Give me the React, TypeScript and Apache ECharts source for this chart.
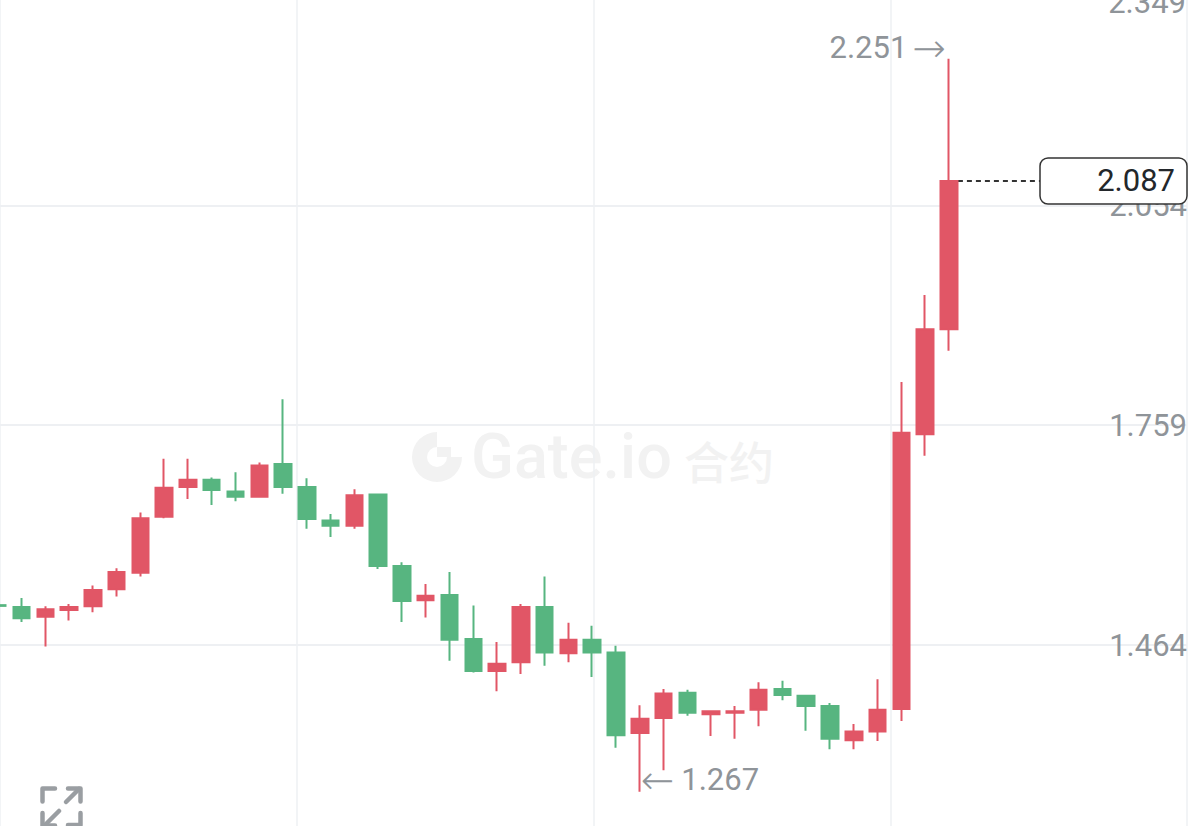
import React, { useEffect, useRef } from "react";
import * as echarts from "echarts";

const opens = [1.5175, 1.515, 1.502, 1.511, 1.516, 1.539, 1.561, 1.636, 1.676, 1.686, 1.67, 1.663, 1.707, 1.676, 1.631, 1.624, 1.666, 1.57, 1.524, 1.531, 1.472, 1.429, 1.441, 1.515, 1.453, 1.471, 1.454, 1.346, 1.366, 1.4, 1.371, 1.373, 1.377, 1.405, 1.396, 1.382, 1.336, 1.348, 1.378, 1.747, 1.888];
const closes = [1.5165, 1.5, 1.512, 1.515, 1.538, 1.562, 1.634, 1.675, 1.686, 1.672, 1.663, 1.705, 1.676, 1.633, 1.624, 1.665, 1.57, 1.523, 1.53, 1.471, 1.429, 1.439, 1.515, 1.454, 1.471, 1.454, 1.343, 1.365, 1.399, 1.373, 1.375, 1.375, 1.404, 1.397, 1.382, 1.338, 1.348, 1.377, 1.749, 1.888, 2.087];
const lows = [1.5165, 1.495, 1.462, 1.497, 1.508, 1.529, 1.556, 1.634, 1.66, 1.652, 1.657, 1.663, 1.667, 1.62, 1.609, 1.62, 1.566, 1.495, 1.501, 1.443, 1.427, 1.402, 1.425, 1.436, 1.441, 1.421, 1.326, 1.267, 1.296, 1.369, 1.342, 1.338, 1.355, 1.39, 1.349, 1.324, 1.324, 1.335, 1.362, 1.718, 1.859];
const highs = [1.5175, 1.527, 1.516, 1.519, 1.544, 1.567, 1.642, 1.714, 1.714, 1.689, 1.696, 1.709, 1.794, 1.688, 1.64, 1.673, 1.666, 1.575, 1.546, 1.562, 1.517, 1.468, 1.519, 1.556, 1.494, 1.49, 1.463, 1.383, 1.405, 1.404, 1.376, 1.382, 1.414, 1.416, 1.396, 1.386, 1.358, 1.418, 1.817, 1.934, 2.251];
const tickLabels = [1.464, 1.759, 2.054];
const clampedTick = 2.349;
const lastPrice = 2.087;
const highestPrice = 2.251;
const lowestPrice = 1.267;
const Y_MIN = 1.22103;
const Y_MAX = 2.32985;
const VISIBLE_BANDS = 51;
const BLEED = 15; // the chart starts left of the page, because the first candle is cut by the edge

const RED = "#E15666";
const GREEN = "#57B580";
const GREY = "#8F9499";
const GRID = "#EEF0F3";
const WM = "#F2F2F2";
const FONT = "Roboto";

const categories = Array.from({ length: VISIBLE_BANDS }, (_, i) => String(i));
const candles = opens.map((o, i) => [o, closes[i], lows[i], highs[i]]);
const lastIndex = opens.length - 1;
const lowIndex = lows.indexOf(lowestPrice);
const highIndex = highs.indexOf(highestPrice);

const corner = (points: number[][]) => ({
  type: "polyline",
  shape: { points },
  style: { stroke: "#9A9EA2", lineWidth: 4.5, fill: "none", lineCap: "round", lineJoin: "round" },
  z: 20,
});

const annotationRich = {
  a: { fontFamily: "DejaVu Sans", fontSize: 40, color: GREY, fontWeight: 200 },
  t: { fontFamily: FONT, fontSize: 31, color: GREY },
  g: { width: 5, fontSize: 31 },
  h: { width: 7, fontSize: 31 },
};

export default function App() {
  const ref = useRef<HTMLDivElement>(null);
  useEffect(() => {
    document.body.style.margin = "0";
    document.body.style.overflow = "hidden";
    const chart = echarts.init(ref.current!, undefined, { renderer: "svg" });
    chart.setOption({
      animation: false,
      backgroundColor: "#fff",
      textStyle: { fontFamily: FONT },
      grid: [
        { left: 0.8, top: 0, width: 1212.8, height: 826, containLabel: false },
        { left: BLEED, top: 0, width: 1187, height: 826, containLabel: false },
      ],
      xAxis: [
        { type: "category", gridIndex: 0, data: categories, show: false, boundaryGap: true },
        {
          type: "value", gridIndex: 1, min: 0, max: 4, interval: 1,
          axisLine: { show: false }, axisTick: { show: false }, axisLabel: { show: false },
          splitLine: { show: true, lineStyle: { color: GRID, width: 1.5 } },
        },
      ],
      yAxis: [
        { type: "value", gridIndex: 0, min: Y_MIN, max: Y_MAX, show: false, splitLine: { show: false } },
        {
          type: "value", gridIndex: 1, min: Y_MIN, max: Y_MAX, position: "right",
          axisLine: { show: false },
          axisTick: { show: false, customValues: tickLabels },
          axisLabel: {
            inside: true, margin: 0, color: GREY, fontSize: 31, fontFamily: FONT, padding: [0, 0, 6, 0],
            customValues: tickLabels, formatter: (v: number) => v.toFixed(3),
          },
          splitLine: { show: true, lineStyle: { color: GRID, width: 2 } },
        },
      ],
      series: [
        {
          type: "candlestick",
          xAxisIndex: 0,
          yAxisIndex: 0,
          barWidth: 17,
          data: candles,
          itemStyle: { color: RED, color0: GREEN, borderColor: RED, borderColor0: GREEN, borderWidth: 2 },
          markPoint: {
            symbol: "circle",
            symbolSize: 0,
            silent: true,
            data: [
              {
                coord: [highIndex, highestPrice],
                label: { show: true, formatter: `{t|${highestPrice.toFixed(3)}}{g|}{a|→}`, rich: annotationRich, position: "left", offset: [2, -11] },
              },
              {
                coord: [lowIndex, lowestPrice],
                label: { show: true, formatter: `{a|←}{h|}{t|${lowestPrice.toFixed(3)}}`, rich: annotationRich, position: "right", offset: [-4, -12] },
              },
            ],
          },
          markLine: {
            silent: true,
            z: 1,
            symbol: "none",
            label: { show: false },
            lineStyle: { color: "#333", type: [5, 4], width: 2 },
            data: [[{ coord: [lastIndex, lastPrice] }, { coord: [44, lastPrice] }]],
          },
        },
      ],
      graphic: [
        {
          type: "group",
          x: BLEED,
          y: 0,
          children: [
            // watermark
            { type: "sector", shape: { cx: 437, cy: 457, r: 25, r0: 10, startAngle: 0, endAngle: Math.PI * 1.5, clockwise: true }, style: { fill: WM }, z: 0 },
            { type: "rect", shape: { x: 437, y: 447, width: 14, height: 10 }, style: { fill: WM }, z: 0 },
            { type: "text", x: 471, y: 456, style: { text: "Gate.io", font: `500 63px ${FONT}`, fill: WM, textVerticalAlign: "middle" }, z: 0 },
            { type: "text", x: 684, y: 460, style: { text: "合约", font: `500 45px "Noto Sans CJK SC"`, fill: WM, textVerticalAlign: "middle" }, z: 0 },
            // clamped top tick label
            { type: "text", x: 1186, y: 2, style: { text: clampedTick.toFixed(3), font: `31px ${FONT}`, fill: GREY, textAlign: "right", textVerticalAlign: "middle" }, z: 5 },
            // price tag
            { type: "rect", shape: { x: 1040, y: 158, width: 147, height: 46, r: 8 }, style: { fill: "#fff", stroke: "#333", lineWidth: 1.5 }, z: 100 },
            { type: "text", x: 1175, y: 180, style: { text: lastPrice.toFixed(3), font: `31px ${FONT}`, fill: "#23272B", textAlign: "right", textVerticalAlign: "middle" }, z: 101 },
            // fullscreen icon
            corner([[42.5, 801.5], [42.5, 788.5], [55, 788.5]]),
            corner([[68, 788.5], [80.5, 788.5], [80.5, 801.5]]),
            corner([[66, 802], [79, 789]]),
            corner([[59, 811], [46, 824]]),
            corner([[42.5, 813], [42.5, 825.5], [55, 825.5]]),
            corner([[80.5, 813], [80.5, 825], [68, 825]]),
          ],
        },
      ],
    });
    return () => chart.dispose();
  }, []);
  return <div ref={ref} style={{ position: "fixed", left: -BLEED, top: 0, width: 1199 + BLEED, height: 826 }} />;
}
